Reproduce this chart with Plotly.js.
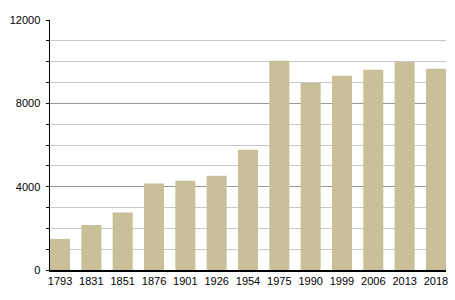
<!DOCTYPE html>
<html>
<head>
<meta charset="utf-8">
<script src="https://cdn.plot.ly/plotly-3.0.1.min.js"></script>
<style>html,body{margin:0;padding:0;background:#fff;}#chart{width:455px;height:300px;}</style>
</head>
<body>
<div id="chart"></div>
<script>
const years = ['1793','1831','1851','1876','1901','1926','1954','1975','1990','1999','2006','2013','2018'];
const population = [1490, 2165, 2755, 4150, 4280, 4520, 5770, 10050, 8975, 9325, 9615, 9985, 9660];
const yTickValues = [0, 4000, 8000, 12000];

const trace = {
  type: 'bar',
  x: years,
  y: population,
  marker: {color: '#c9c09a', line: {width: 0}},
  hoverinfo: 'x+y'
};

const layout = {
  width: 455,
  height: 300,
  margin: {l: 50, r: 9, t: 20, b: 30},
  paper_bgcolor: '#ffffff',
  plot_bgcolor: '#ffffff',
  bargap: 0.36,
  showlegend: false,
  font: {family: 'Liberation Sans, Arial, sans-serif', size: 11, color: '#000'},
  xaxis: {
    type: 'category',
    range: [-0.32, 12.32],
    showline: true,
    linecolor: '#000',
    linewidth: 1.5,
    ticks: '',
    showgrid: false,
    tickfont: {size: 11, color: '#000'},
    fixedrange: true
  },
  yaxis: {
    range: [0, 12000],
    tickvals: yTickValues,
    ticktext: yTickValues.map(String),
    showline: true,
    linecolor: '#000',
    linewidth: 1.5,
    ticks: 'outside',
    ticklen: 3,
    tickcolor: '#000',
    ticklabelstandoff: 3,
    showgrid: true,
    gridcolor: '#999',
    gridwidth: 1,
    zeroline: false,
    tickfont: {size: 11, color: '#000'},
    minor: {dtick: 1000, showgrid: true, gridcolor: '#c8c8c8', gridwidth: 1, ticks: 'outside', ticklen: 3, tickcolor: '#000'},
    fixedrange: true
  }
};

Plotly.newPlot('chart', [trace], layout, {displayModeBar: false, staticPlot: true});
</script>
</body>
</html>
